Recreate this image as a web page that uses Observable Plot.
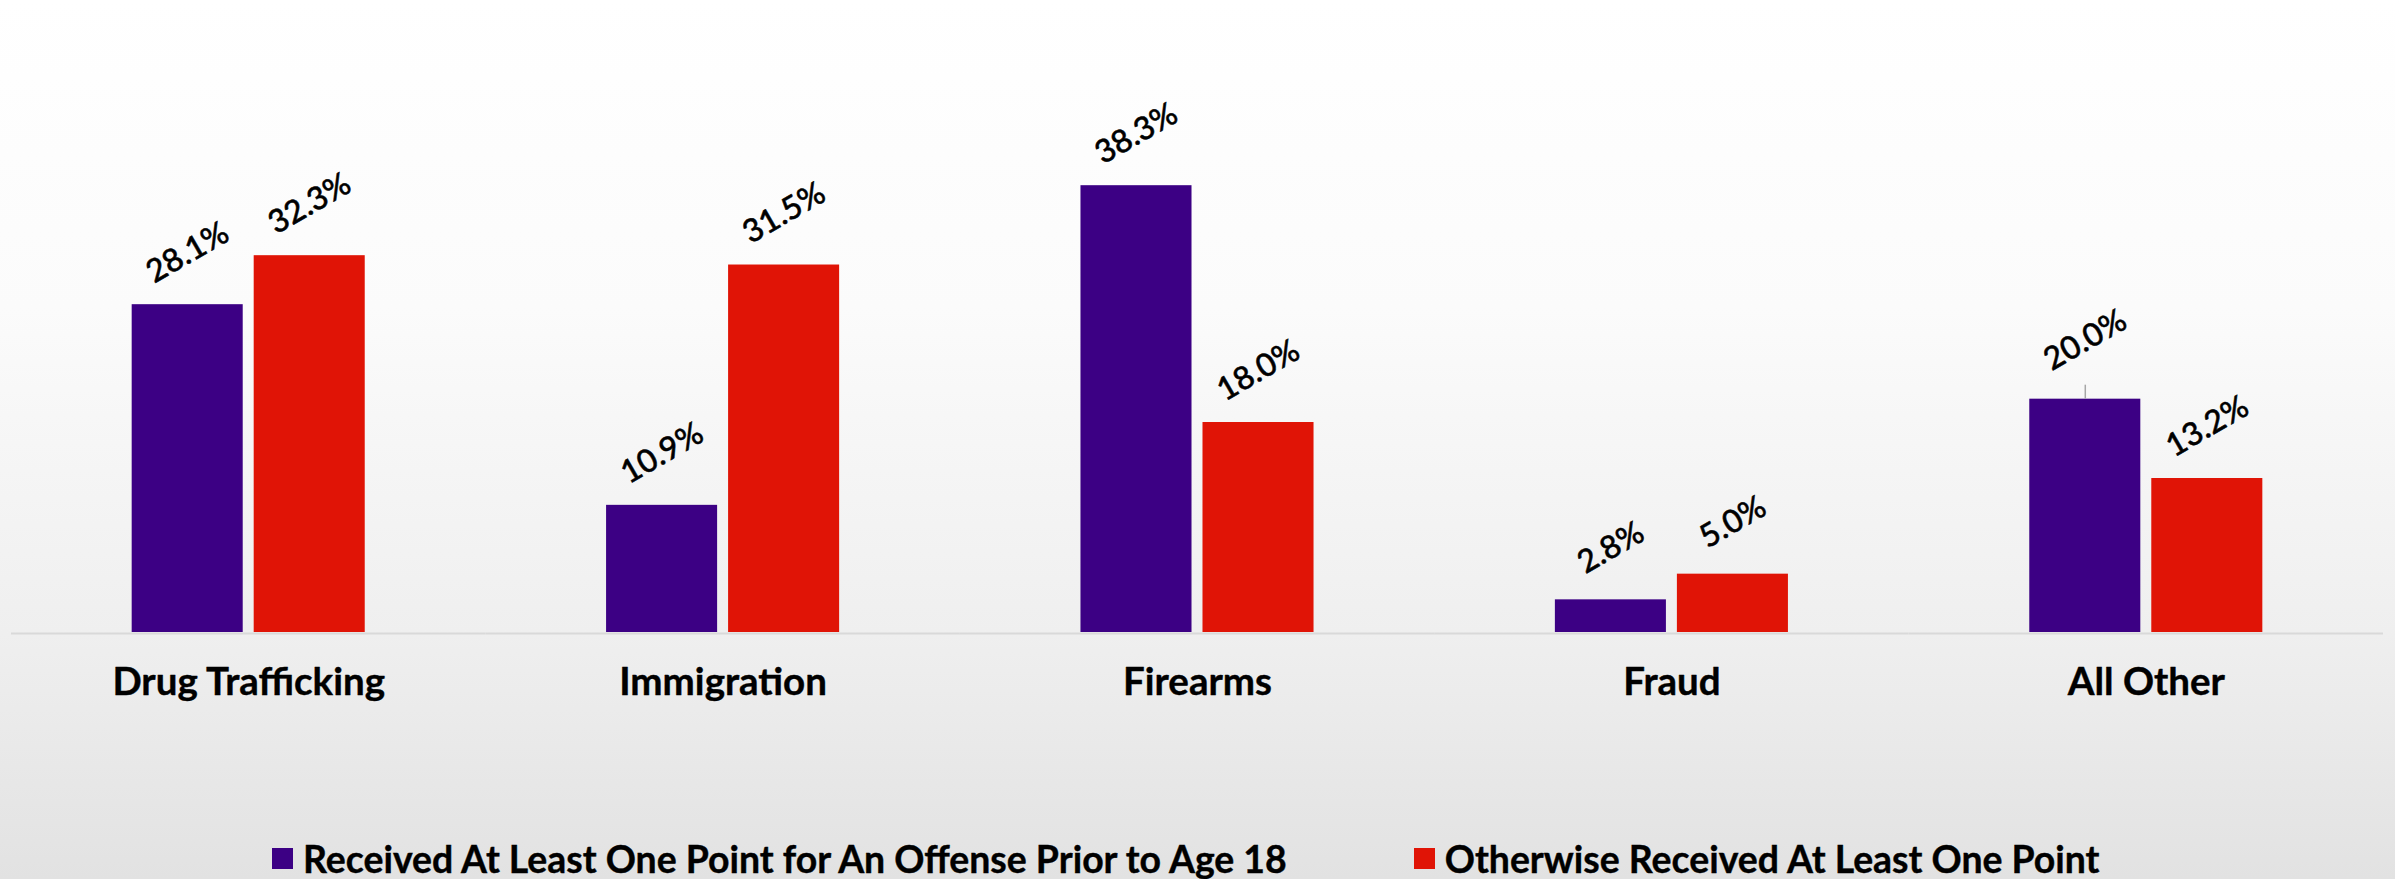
<!DOCTYPE html>
<html>
<head>
<meta charset="utf-8">
<script src="https://cdn.jsdelivr.net/npm/d3@7"></script>
<script src="https://cdn.jsdelivr.net/npm/@observablehq/plot@0.6"></script>
<style>
  html, body { margin: 0; padding: 0; }
  body {
    width: 2395px; height: 879px; overflow: hidden;
    background: linear-gradient(to bottom, #ffffff 0%, #fbfbfb 35%, #efefef 72%, #e2e2e2 100%);
    font-family: Lato, "Open Sans", sans-serif;
  }
  #chart { position: absolute; left: 0; top: 0; }
  #legend {
    position: absolute; left: 272px; top: 836px; height: 44px;
    display: flex; align-items: center; gap: 127px;
    font-family: Lato, sans-serif; font-weight: bold; font-size: 37.4px; color: #000;
    -webkit-text-stroke: 0.4px #000;
    white-space: nowrap;
  }
  .item { display: flex; align-items: center; gap: 10px; }
  .sw { width: 21px; height: 21px; display: inline-block; }
</style>
</head>
<body>
<div id="chart"></div>
<div id="legend"></div>
<script>
// ---- data ----
const categories = ["Drug Trafficking", "Immigration", "Firearms", "Fraud", "All Other"];
const seriesNames = [
  "Received At Least One Point for An Offense Prior to Age 18",
  "Otherwise Received At Least One Point"
];
const priorToAge18 = [28.1, 10.9, 38.3, 2.8, 20.0];
const otherwisePoint = [32.3, 31.5, 18.0, 5.0, 13.2];
const seriesColors = ["#3c0084", "#e01406"];

// label that was moved up with a leader line in the original
const leaderCategory = "All Other";
const leaderSeries = seriesNames[0];

// ---- table ----
const rows = [];
categories.forEach((c, i) => {
  rows.push({category: c, series: seriesNames[0], value: priorToAge18[i]});
  rows.push({category: c, series: seriesNames[1], value: otherwisePoint[i]});
});
const isLeader = d => d.category === leaderCategory && d.series === leaderSeries;

const fmt = d => d.value.toFixed(1) + "%";

const plot = Plot.plot({
  width: 2395,
  height: 720,
  marginLeft: 11,
  marginRight: 12,
  marginTop: 48.7,
  marginBottom: 88,
  style: {fontFamily: "Lato, sans-serif", background: "transparent", overflow: "visible"},
  facet: {data: rows, x: "category"},
  fx: {domain: categories, paddingInner: 0, paddingOuter: 0, round: false, axis: null, label: null},
  x: {domain: seriesNames, paddingInner: 0.09, paddingOuter: 0.989, round: false, axis: null},
  y: {domain: [0, 50], axis: null},
  color: {domain: seriesNames, range: seriesColors},
  marks: [
    Plot.ruleY([0], {stroke: "#d9d9d9", strokeWidth: 2, dy: 1}),
    Plot.barY(rows, {x: "series", y: "value", fill: "series"}),
    Plot.text(rows, {
      filter: d => !isLeader(d),
      x: "series", y: "value", text: fmt, rotate: -30,
      dy: -52, fontSize: 32, fontWeight: 500, fill: "#000",
      stroke: "#000", strokeWidth: 0.5,
      textAnchor: "middle", lineAnchor: "middle"
    }),
    Plot.text(rows, {
      filter: isLeader,
      x: "series", y: "value", text: fmt, rotate: -30,
      dy: -59, fontSize: 32, fontWeight: 500, fill: "#000",
      stroke: "#000", strokeWidth: 0.5,
      textAnchor: "middle", lineAnchor: "middle"
    }),
    Plot.ruleX(rows, {
      filter: isLeader,
      x: "series", y1: "value", y2: d => d.value + 1.2,
      stroke: "#a6a6a6", strokeWidth: 1.5
    }),
    Plot.text(rows, {
      filter: d => d.series === seriesNames[0],
      frameAnchor: "bottom", text: "category", lineAnchor: "top",
      dy: 35, fontSize: 38.5, fontWeight: "bold", fill: "#000",
      stroke: "#000", strokeWidth: 0.4
    })
  ]
});
document.getElementById("chart").appendChild(plot);

// ---- legend ----
const legend = document.getElementById("legend");
seriesNames.forEach((name, i) => {
  const item = document.createElement("div");
  item.className = "item";
  const sw = document.createElement("span");
  sw.className = "sw";
  sw.style.background = seriesColors[i];
  const label = document.createElement("span");
  label.textContent = name;
  item.appendChild(sw);
  item.appendChild(label);
  legend.appendChild(item);
});
</script>
</body>
</html>
